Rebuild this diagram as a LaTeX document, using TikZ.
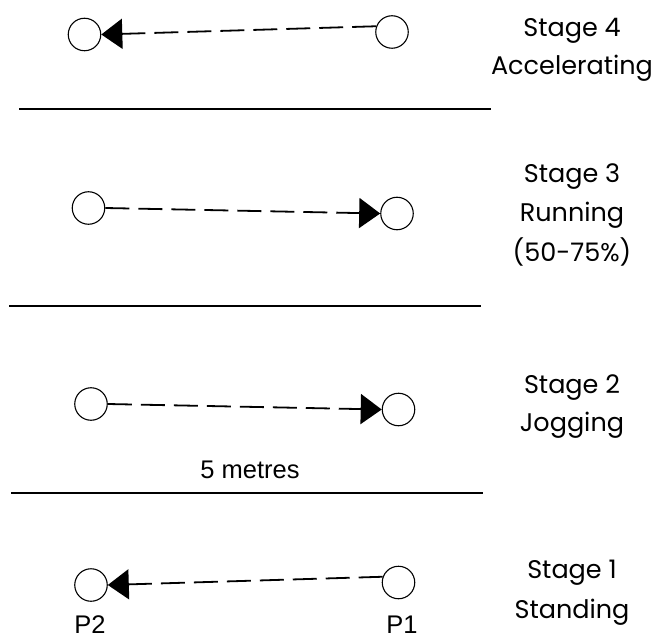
\documentclass[tikz,border=0pt]{standalone}
\usepackage{fontspec}
\setmainfont{Poppins}
\newfontfamily\arialfont{Liberation Sans}
\usetikzlibrary{arrows.meta}
\begin{document}
\begin{tikzpicture}[x=1pt,y=-1pt,
  person/.style={draw,circle,line width=1.1pt,minimum size=32.5pt,inner sep=0pt},
  move/.style={line width=1.8pt,dash pattern=on 24pt off 9pt,
    -{Triangle[length=21pt,width=30pt]},shorten >=0pt},
  stagetxt/.style={anchor=base,inner sep=0pt,font=\fontsize{25.5}{30}\selectfont},
  sanstxt/.style={anchor=base,inner sep=0pt,font=\arialfont\fontsize{25.5}{30}\selectfont},
  divider/.style={line width=2.6pt}]
\useasboundingbox (0,0) rectangle (653,639);
% Stage 4
\node[person] (l4) at (84.5,34.5) {};
\node[person] (r4) at (392,32) {};
\draw[move] (r4.160) -- (l4.east);
\node[stagetxt] (s4a) at (572,37) {Stage 4};
\node[stagetxt] (s4b) at (572,75) {Accelerating};
\coordinate (d1a) at (19,109);
\coordinate (d1b) at (491,109);
\draw[divider] (d1a) -- (d1b);
% Stage 3
\node[person] (l3) at (88.5,208) {};
\node[person] (r3) at (397,213.5) {};
\draw[move] (l3.east) -- (r3.west);
\node[stagetxt] (s3a) at (572,183) {Stage 3};
\node[stagetxt] (s3b) at (572,222) {Running};
\node[stagetxt] (s3c) at (572,261) {(50-75\%)};
\coordinate (d2a) at (9,306);
\coordinate (d2b) at (481,306);
\draw[divider] (d2a) -- (d2b);
% Stage 2
\node[person] (l2) at (91,404) {};
\node[person] (r2) at (398.5,409.5) {};
\draw[move] (l2.east) -- (r2.west);
\node[stagetxt] (s2a) at (572,393) {Stage 2};
\node[stagetxt] (s2b) at (572,431) {Jogging};
\node[sanstxt] (dist) at (250,478) {5 metres};
\coordinate (d3a) at (11,493);
\coordinate (d3b) at (483,493);
\draw[divider] (d3a) -- (d3b);
% Stage 1
\node[person] (l1) at (91,585) {};
\node[person] (r1) at (398.5,582.5) {};
\draw[move] (r1.160) -- (l1.east);
\node[stagetxt] (s1a) at (572,578) {Stage 1};
\node[stagetxt] (s1b) at (572,618) {Standing};
\node[sanstxt] (p2) at (90,633) {P2};
\node[sanstxt] (p1) at (402,633) {P1};
\end{tikzpicture}
\end{document}
